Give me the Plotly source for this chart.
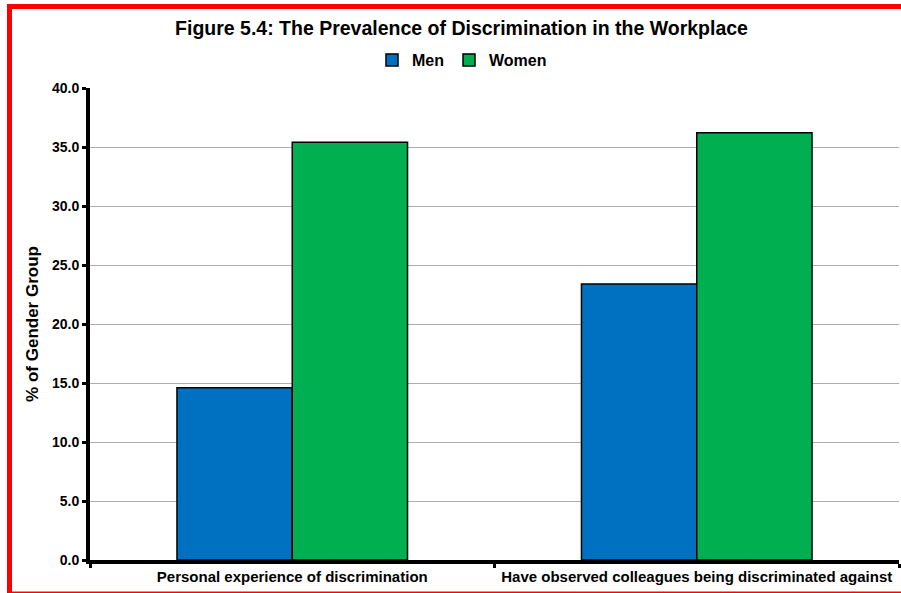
import plotly.graph_objects as go

categories = ["Personal experience of discrimination",
              "Have observed colleagues being discriminated against"]
men = [14.6, 23.4]
women = [35.4, 36.2]
y_ticks = [0, 5, 10, 15, 20, 25, 30, 35, 40]
y_tick_labels = ["0.0", "5.0", "10.0", "15.0", "20.0", "25.0", "30.0", "35.0", "40.0"]

FONT = "Arial, Liberation Sans, sans-serif"

fig = go.Figure()
fig.add_trace(go.Bar(name="Men", x=categories, y=men,
                     marker=dict(color="#0070C0", line=dict(color="black", width=1.5))))
fig.add_trace(go.Bar(name="Women", x=categories, y=women,
                     marker=dict(color="#00B050", line=dict(color="black", width=1.5))))

L, R, T, B = 90, 2, 88, 33
W, H = 901, 593
pw, ph = W - L - R, H - T - B

def px_x(px):
    return (px - L) / pw

def px_y(py):
    return (H - B - py) / ph

fig.update_layout(
    width=W, height=H,
    margin=dict(l=L, r=R, t=T, b=B, pad=0),
    paper_bgcolor="white", plot_bgcolor="white",
    barmode="group", bargap=0.43, bargroupgap=0,
    font=dict(family=FONT, color="black"),
    title=dict(text="Figure 5.4: The Prevalence of Discrimination in the Workplace",
               x=461.5 / W, xref="container", xanchor="center",
               y=1 - 28 / H, yref="container", yanchor="middle",
               font=dict(size=19.5, family=FONT, color="black", weight="bold")),
    legend=dict(orientation="h", x=px_x(462), xanchor="center",
                y=px_y(60), yanchor="middle",
                font=dict(size=16, family=FONT, color="black", weight="bold"),
                itemwidth=30, tracegroupgap=0, bgcolor="rgba(0,0,0,0)"),
    showlegend=True,
)
fig.update_xaxes(
    type="category", tickson="boundaries",
    showline=True, linecolor="black", linewidth=4,
    ticks="outside", ticklen=4, tickwidth=3, tickcolor="black",
    showgrid=False,
    tickfont=dict(size=15, family=FONT, color="black", weight="bold"),
)
fig.update_yaxes(
    range=[0, 40], tickvals=y_ticks, ticktext=y_tick_labels,
    showline=True, linecolor="black", linewidth=4,
    ticks="outside", ticklen=4, tickwidth=3, tickcolor="black",
    showgrid=True, gridcolor="#ADADAD", gridwidth=1,
    zeroline=False,
    tickfont=dict(size=14, family=FONT, color="black", weight="bold"),
    title=dict(text="% of Gender Group", font=dict(size=17, family=FONT, color="black", weight="bold"),
               standoff=10),
)

fig.add_shape(type="rect", xref="paper", yref="paper",
              x0=px_x(9.5), x1=px_x(906), y0=px_y(6.5), y1=px_y(594),
              line=dict(color="#FF0000", width=5), fillcolor="rgba(0,0,0,0)", layer="above")

fig.write_html("out.html", config={"displayModeBar": False},
               post_script="document.body.style.margin='0px';document.body.style.padding='0px';")
